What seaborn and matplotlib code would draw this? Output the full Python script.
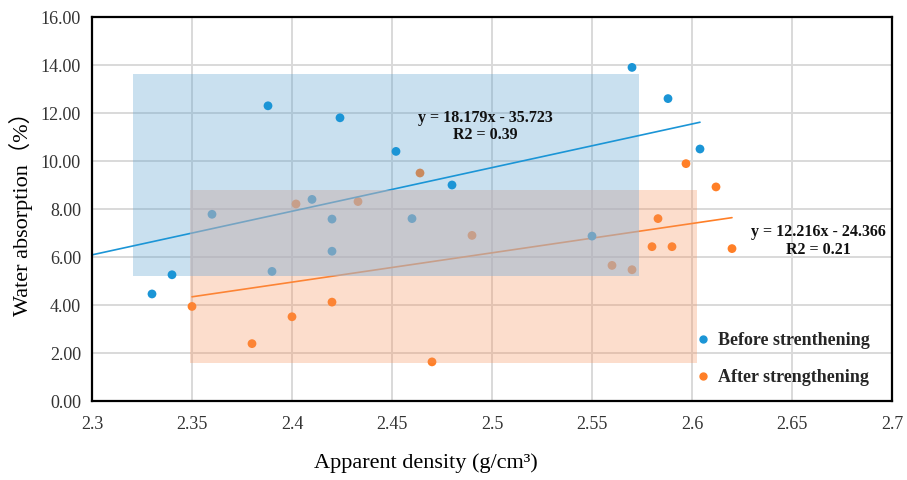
import numpy as np
import pandas as pd
import matplotlib
matplotlib.use("Agg")
import matplotlib.pyplot as plt
from matplotlib.patches import Rectangle
import seaborn as sns

# ---------------- data ----------------
before_density = [2.33, 2.34, 2.36, 2.388, 2.39, 2.41, 2.42, 2.42, 2.424, 2.452, 2.46, 2.48, 2.55, 2.57, 2.588, 2.604]
before_water = [4.46, 5.26, 7.78, 12.30, 5.40, 8.40, 7.58, 6.24, 11.80, 10.40, 7.60, 9.00, 6.87, 13.90, 12.60, 10.50]

after_density = [2.35, 2.38, 2.40, 2.402, 2.42, 2.433, 2.464, 2.47, 2.49, 2.56, 2.57, 2.58, 2.583, 2.59, 2.597, 2.612, 2.62]
after_water = [3.94, 2.39, 3.51, 8.21, 4.12, 8.31, 9.50, 1.63, 6.90, 5.65, 5.47, 6.43, 7.60, 6.43, 9.89, 8.92, 6.35]

# trendline coefficients (slope, intercept) and drawn x-range
before_fit = [18.179, -35.723]
after_fit = [12.216, -24.366]
before_fit_range = [2.30, 2.604]
after_fit_range = [2.35, 2.62]

before_eq = ["y = 18.179x - 35.723", "R2 = 0.39"]
after_eq = ["y = 12.216x - 24.366", "R2 = 0.21"]

# shaded ranges: [x0, x1, y0, y1]
before_box = [2.3203, 2.5735, 5.20, 13.64]
after_box = [2.3492, 2.6023, 1.57, 8.79]

x_ticks = [2.3, 2.35, 2.4, 2.45, 2.5, 2.55, 2.6, 2.65, 2.7]
x_tick_labels = ["2.3", "2.35", "2.4", "2.45", "2.5", "2.55", "2.6", "2.65", "2.7"]
y_ticks = [0, 2, 4, 6, 8, 10, 12, 14, 16]

labels = ["Before strenthening", "After strengthening"]

# ---------------- style ----------------
sns.set_theme(style="white")
plt.rcParams["font.family"] = ["Liberation Serif", "Noto Sans CJK SC"]

BLUE = "#1b95d6"
ORANGE = "#ff7f27"

fig = plt.figure(figsize=(9.07, 4.80), dpi=100)
ax = fig.add_axes([92 / 907, 79 / 480, 800 / 907, 384 / 480])

ax.set_xlim(2.3, 2.7)
ax.set_ylim(0, 16)
ax.set_xticks(x_ticks)
ax.set_xticklabels(x_tick_labels)
ax.set_yticks(y_ticks)
ax.set_yticklabels([f"{v:.2f}" for v in y_ticks])
ax.tick_params(axis="both", length=0, labelsize=13, labelcolor="#333333")
ax.tick_params(axis="x", pad=11)
ax.tick_params(axis="y", pad=8)

ax.grid(True, color="#d9d9d9", linewidth=1.4, zorder=0)
ax.set_axisbelow(True)
for s in ax.spines.values():
    s.set_color("black")
    s.set_linewidth(1.6)
    s.set_zorder(10)

# layer 1: after series (under the blue box)
xa = np.array(after_fit_range)
sns.lineplot(x=xa, y=after_fit[0] * xa + after_fit[1], color=ORANGE, linewidth=1.2,
             ax=ax, zorder=2, legend=False)
sns.scatterplot(x=after_density, y=after_water, color=ORANGE, s=40, edgecolor="none",
                ax=ax, zorder=3, legend=False)

# layer 2: blue box
ax.add_patch(Rectangle((before_box[0], before_box[2]), before_box[1] - before_box[0],
                       before_box[3] - before_box[2], facecolor="#5ba3d0", alpha=0.33,
                       edgecolor="none", zorder=4))

# layer 3: before series
xb = np.array(before_fit_range)
sns.lineplot(x=xb, y=before_fit[0] * xb + before_fit[1], color=BLUE, linewidth=1.2,
             ax=ax, zorder=5, legend=False)
sns.scatterplot(x=before_density, y=before_water, color=BLUE, s=40, edgecolor="none",
                ax=ax, zorder=6, legend=False)

# layer 4: orange box
ax.add_patch(Rectangle((after_box[0], after_box[2]), after_box[1] - after_box[0],
                       after_box[3] - after_box[2], facecolor="#f89158", alpha=0.30,
                       edgecolor="none", zorder=7))
# overlap tint (intersection of both boxes) to get grey overlap
ox0, ox1 = max(before_box[0], after_box[0]), min(before_box[1], after_box[1])
oy0, oy1 = max(before_box[2], after_box[2]), min(before_box[3], after_box[3])
ax.add_patch(Rectangle((ox0, oy0), ox1 - ox0, oy1 - oy0, facecolor="#a8c8ec",
                       alpha=0.32, edgecolor="none", zorder=8))

# equations
ax.text(2.4965, 11.44, before_eq[0] + "\n" + before_eq[1], ha="center", va="center",
        fontsize=11.5, fontweight="bold", color="#111111", linespacing=1.15, zorder=12)
ax.text(2.663, 6.66, after_eq[0] + "\n" + after_eq[1], ha="center", va="center",
        fontsize=11.5, fontweight="bold", color="#111111", linespacing=1.15, zorder=12)

# legend
h1 = plt.Line2D([], [], marker="o", linestyle="none", color=BLUE, markersize=5)
h2 = plt.Line2D([], [], marker="o", linestyle="none", color=ORANGE, markersize=5)
leg = ax.legend([h1, h2], labels, loc="upper left", bbox_to_anchor=(0.744, 0.198),
                frameon=False, prop={"weight": "bold", "size": 13}, handletextpad=0.3,
                handlelength=1.0, labelspacing=1.12, borderaxespad=0)
leg.set_zorder(12)

ax.set_xlabel("Apparent density (g/cm³)", fontsize=16, color="black")
ax.xaxis.set_label_coords((426 - 92) / 800, -0.135)
ax.set_ylabel("Water absorption（%）", fontsize=16, color="black")
ax.yaxis.set_label_coords((33 - 92) / 800, 0.5)

fig.savefig("out.png", dpi=100)
